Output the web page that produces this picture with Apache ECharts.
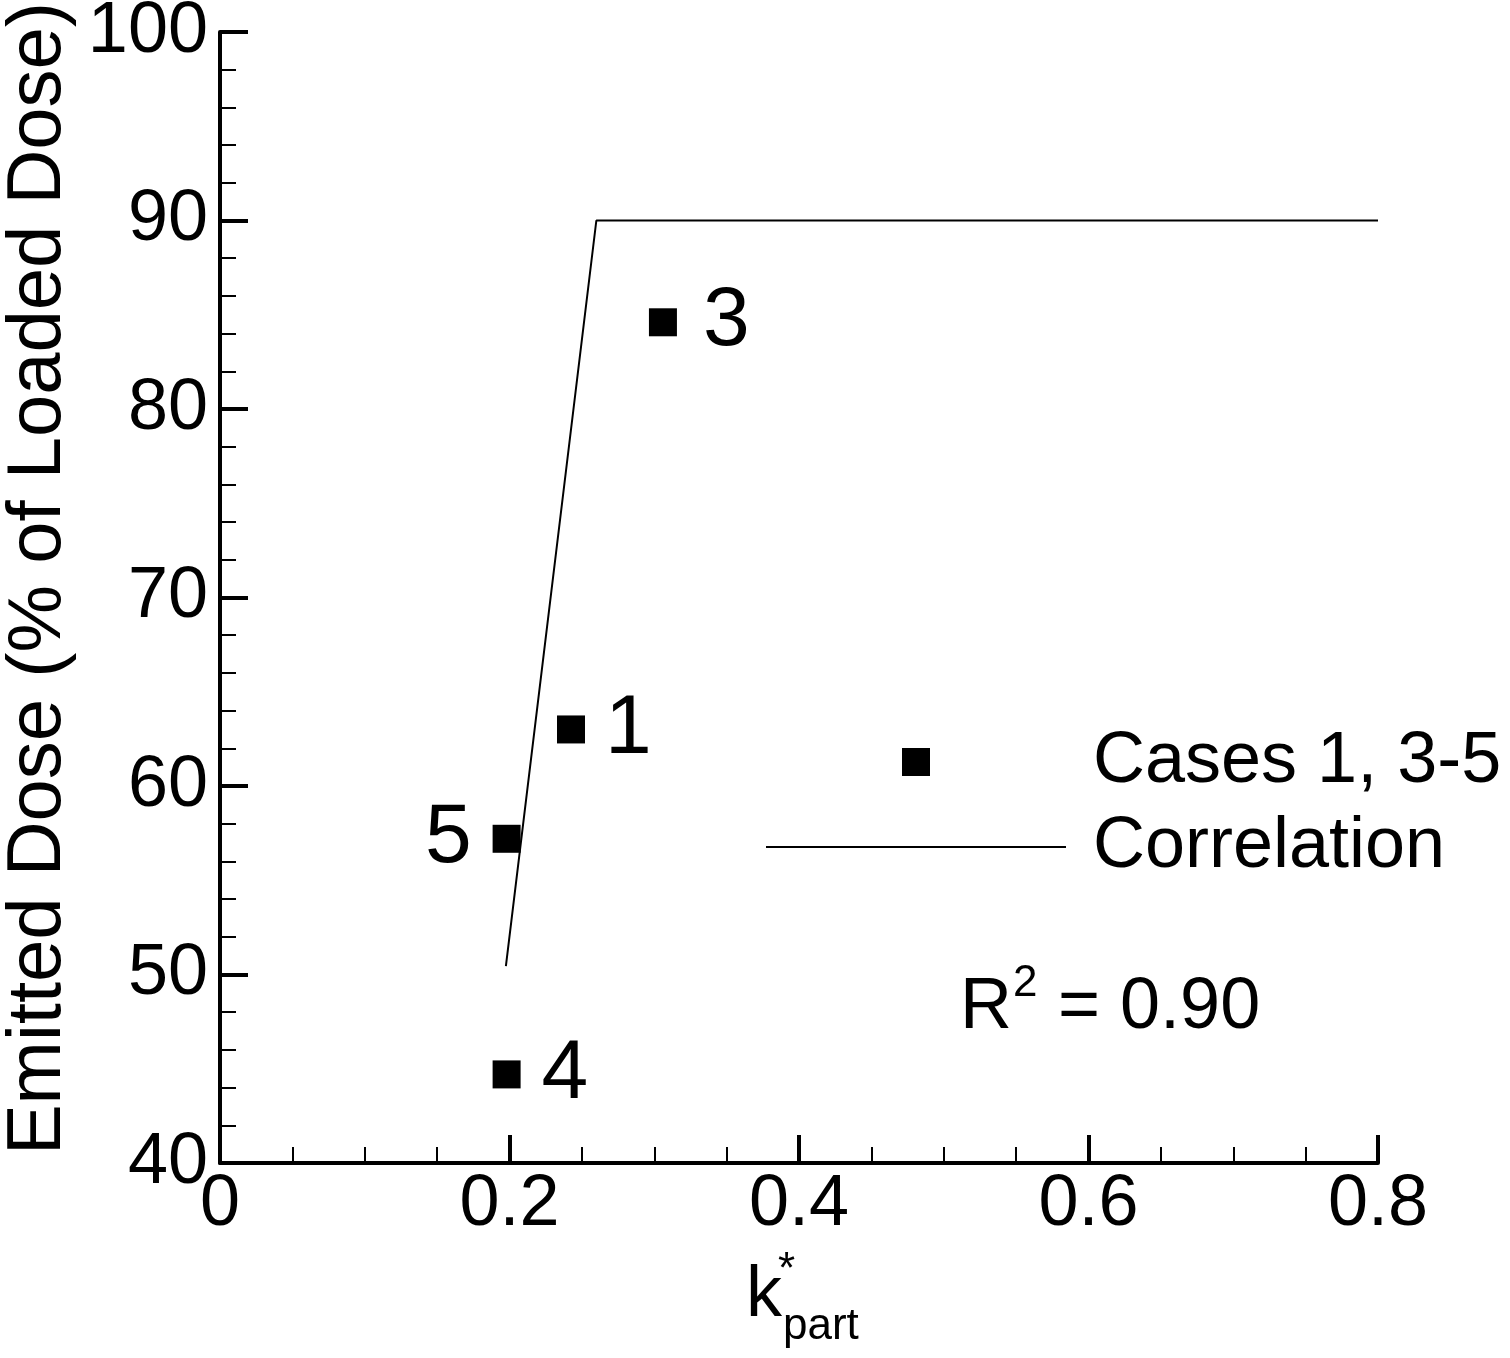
<!DOCTYPE html>
<html><head><meta charset="utf-8">
<script src="https://cdn.jsdelivr.net/npm/echarts@6/dist/echarts.min.js"></script>
<style>html,body{margin:0;padding:0;background:#fff}#c{width:1510px;height:1358px}</style>
</head><body><div id="c"></div>
<script>
// ---- data ----
const caseNames = ['3', '1', '5', '4'];
const caseX = [0.306, 0.2425, 0.198, 0.198];
const caseY = [84.6, 63.0, 57.2, 44.7];
const corrX = [0.1975, 0.26, 0.8];
const corrY = [50.45, 90, 90];
const seriesNames = ['Cases 1, 3-5', 'Correlation'];
const yTitle = 'Emitted Dose (% of Loaded Dose)';
const r2Text = ['R', '2', ' = 0.90'];
const xTitle = ['k', '*', 'part'];

// ---- styles ----
const FF = "'Liberation Sans', Arial, Helvetica, sans-serif";
const labelStyle = {
  '3': { position: 'right', distance: 26 },
  '1': { position: 'right', distance: 20 },
  '5': { position: 'left', distance: 21 },
  '4': { position: 'right', distance: 21 }
};

const chart = echarts.init(document.getElementById('c'), null, { renderer: 'canvas' });

const scatterData = caseNames.map((n, i) => ({
  name: n,
  value: [caseX[i], caseY[i]],
  label: labelStyle[n]
}));
const lineData = corrX.map((x, i) => [x, corrY[i]]);

const axisCommon = {
  axisLine: { lineStyle: { color: '#000', width: 4 } },
  axisTick: { inside: true, length: 28, lineStyle: { color: '#000', width: 4 } },
  minorTick: { show: true, length: 16, lineStyle: { color: '#000', width: 2 } },
  splitLine: { show: false },
  axisLabel: { color: '#000', fontSize: 72, fontFamily: FF }
};

const option = {
  backgroundColor: '#fff',
  animation: false,
  grid: { left: 220, right: 132, top: 32, bottom: 195, containLabel: false, outerBoundsMode: 'none' },
  xAxis: Object.assign({}, axisCommon, {
    type: 'value', min: 0, max: 0.8, interval: 0.2,
    minorTick: Object.assign({}, axisCommon.minorTick, { splitNumber: 4 }),
    axisLabel: Object.assign({}, axisCommon.axisLabel, { margin: 6 })
  }),
  yAxis: Object.assign({}, axisCommon, {
    type: 'value', min: 40, max: 100, interval: 10,
    minorTick: Object.assign({}, axisCommon.minorTick, { splitNumber: 5 }),
    axisLabel: Object.assign({}, axisCommon.axisLabel, { margin: 12 }),
    name: yTitle, nameLocation: 'middle', nameRotate: 90, nameGap: 124,
    nameTextStyle: { color: '#000', fontSize: 76, fontFamily: FF, padding: [0, 0, 0, 38] }
  }),
  legend: {
    orient: 'vertical', left: 766, top: 726, padding: 0,
    itemWidth: 300, itemHeight: 28, itemGap: 13,
    symbolKeepAspect: true,
    textStyle: { color: '#000', fontSize: 72, fontFamily: FF, padding: [0, 0, 0, 22] },
    data: [
      { name: seriesNames[0], icon: 'path://M0,0H10V10H0Z', itemStyle: { color: '#000' } },
      { name: seriesNames[1], icon: 'path://M0,0H300V2H0Z', itemStyle: { color: '#000' } }
    ]
  },
  series: [
    {
      name: seriesNames[0], type: 'scatter', symbol: 'rect', symbolSize: 28,
      itemStyle: { color: '#000', opacity: 1 },
      label: { show: true, formatter: '{b}', color: '#000', fontSize: 84, fontFamily: FF },
      data: scatterData, z: 3
    },
    {
      name: seriesNames[1], type: 'line', symbol: 'none', showSymbol: false,
      lineStyle: { color: '#000', width: 2 },
      itemStyle: { color: '#000' },
      data: lineData, z: 2
    }
  ],
  graphic: [
    { type: 'text', x: 746, y: 1296, style: { text: xTitle[0], fontSize: 72, fontFamily: FF, fill: '#000', align: 'left', verticalAlign: 'middle' } },
    { type: 'text', x: 778, y: 1271, style: { text: xTitle[1], fontSize: 44, fontFamily: FF, fill: '#000', align: 'left', verticalAlign: 'middle' } },
    { type: 'text', x: 783, y: 1327, style: { text: xTitle[2], fontSize: 44, fontFamily: FF, fill: '#000', align: 'left', verticalAlign: 'middle' } },
    { type: 'text', x: 960, y: 1008, style: { text: r2Text[0], fontSize: 72, fontFamily: FF, fill: '#000', align: 'left', verticalAlign: 'middle' } },
    { type: 'text', x: 1013, y: 984, style: { text: r2Text[1], fontSize: 44, fontFamily: FF, fill: '#000', align: 'left', verticalAlign: 'middle' } },
    { type: 'text', x: 1038, y: 1008, style: { text: r2Text[2], fontSize: 72, fontFamily: FF, fill: '#000', align: 'left', verticalAlign: 'middle' } }
  ]
};
chart.setOption(option);
</script>
</body></html>
